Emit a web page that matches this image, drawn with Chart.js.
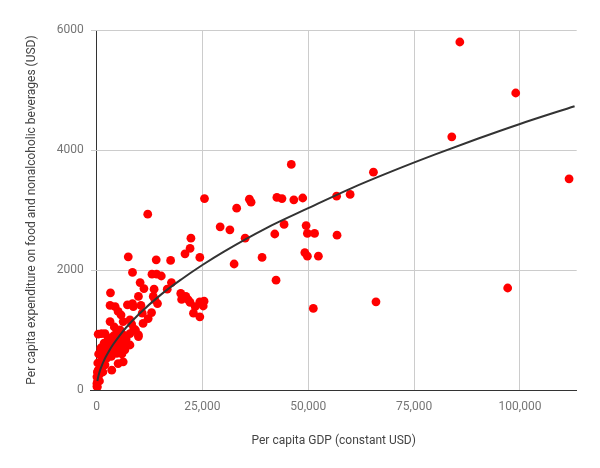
<!DOCTYPE html>
<html>
<head>
<meta charset="utf-8">
<script src="https://cdn.jsdelivr.net/npm/chart.js@4.4.1/dist/chart.umd.min.js"></script>
<style>
  html, body { margin: 0; padding: 0; background: #fff; }
  #wrap { width: 600px; height: 468px; }
</style>
</head>
<body>
<div id="wrap"><canvas id="c" width="600" height="468"></canvas></div>
<script>
// GDP per capita (constant USD) for each country
const gdp = [
  85800, 99000, 83900, 111600, 65400, 48700, 56700, 59900, 49500, 49800,
  51500, 56800, 49200, 49800, 52400, 97100, 66000, 51200,
  46000, 25500, 12100, 33100, 36100, 36500, 42600, 43800, 46600, 29200,
  31500, 44300, 42100, 35100, 22300, 22100, 20900, 24400, 39100, 32500,
  42400, 7500, 14100, 17500, 8500, 13100, 14200, 15300, 10300, 11200,
  13600, 17700, 16700, 3300, 9900, 13400, 13800, 14400, 19900, 21100,
  21700, 20100, 22100, 24400, 25200, 25400, 23300, 22900, 24400, 3200,
  4400, 5100, 5800, 7300, 8500, 8700, 10500, 10800, 13000,
  3200, 7900, 11000, 12200, 6300, 8300, 1200, 2000, 4800, 6300,
  7900, 9900, 3200, 4800, 6300, 7900, 1600, 3200, 4800, 6700,
  6300, 5100, 3600, 800, 400, 100, 100, 100, 2400, 2000,
  1200, 9900, 2800, 4000, 5500, 7000, 8800, 4200, 5600, 3800,
  5600, 2500, 6000, 1800, 500, 300, 600, 900, 1500, 300,
  200, 1400, 200, 700, 400, 1000, 2600, 3500, 4500, 9200
];
// Per capita expenditure on food and nonalcoholic beverages (USD)
const foodSpend = [
  5800, 4950, 4220, 3520, 3630, 3200, 3230, 3260, 2740, 2610,
  2610, 2580, 2290, 2230, 2230, 1700, 1470, 1360,
  3760, 3190, 2930, 3030, 3180, 3130, 3210, 3190, 3170, 2720,
  2670, 2760, 2600, 2530, 2530, 2360, 2270, 2210, 2210, 2100,
  1830, 2220, 2170, 2160, 1960, 1930, 1930, 1900, 1790, 1690,
  1680, 1790, 1680, 1620, 1560, 1560, 1500, 1440, 1610, 1560,
  1500, 1510, 1460, 1470, 1400, 1480, 1390, 1280, 1220, 1410,
  1390, 1310, 1250, 1420, 1440, 1390, 1410, 1280, 1290,
  1140, 1170, 1110, 1190, 1140, 1100, 940, 940, 970, 920,
  940, 920, 780, 830, 780, 750, 610, 640, 610, 670,
  470, 440, 330, 440, 330, 220, 110, 60, 530, 420,
  560, 890, 870, 900, 860, 850, 1020, 1050, 1000, 700,
  720, 700, 600, 780, 600, 450, 250, 350, 300, 150,
  300, 450, 50, 150, 930, 700, 820, 560, 720, 1000
];
// Trend line
const trendX = [200, 500, 1000, 2000, 3000, 4000, 5500, 7000, 10000, 15000, 20000, 25000, 30000, 40000, 50000, 60000, 70000, 80000, 90000, 100000, 112900];
const trendY = [150, 247, 360, 526, 656, 767, 912, 1042, 1263, 1577, 1842, 2083, 2303, 2695, 3030, 3357, 3651, 3926, 4187, 4434, 4730];
// Axis ticks
const xTicks = [0, 25000, 50000, 75000, 100000];
const yTicks = [0, 2000, 4000, 6000];

const points = gdp.map((v, i) => ({ x: v, y: foodSpend[i] }));
const trend = trendX.map((v, i) => ({ x: v, y: trendY[i] }));

Chart.defaults.font.family = 'Roboto';
Chart.defaults.font.size = 12;

new Chart(document.getElementById('c'), {
  type: 'scatter',
  data: {
    datasets: [
      {
        label: 'Trend',
        data: trend,
        showLine: true,
        borderColor: '#333333',
        borderWidth: 2,
        pointRadius: 0,
        pointHoverRadius: 0,
        cubicInterpolationMode: 'monotone',
        fill: false,
        order: 0
      },
      {
        label: 'Countries',
        data: points,
        backgroundColor: '#ff0000',
        borderColor: '#ff0000',
        borderWidth: 0,
        pointRadius: 4.4,
        pointHoverRadius: 4.4,
        order: 1
      }
    ]
  },
  options: {
    responsive: false,
    animation: false,
    layout: { padding: { top: 30, right: 23.3, left: 0, bottom: 0 } },
    plugins: { legend: { display: false }, tooltip: { enabled: false } },
    scales: {
      x: {
        type: 'linear',
        min: -1370,
        max: 113400,
        afterBuildTicks: (s) => { s.ticks = xTicks.map(v => ({ value: v })); },
        afterFit: (s) => { s.height = 78; },
        border: { display: true, color: '#333333', width: 1 },
        grid: {
          drawTicks: false,
          color: (ctx) => (ctx.tick && ctx.tick.value === 0) ? '#333333' : '#cccccc',
          lineWidth: 1
        },
        ticks: {
          padding: 9.5,
          color: '#757575',
          font: { size: 12 },
          callback: (v) => v.toLocaleString('en-US')
        },
        title: {
          display: true,
          text: 'Per capita GDP (constant USD)',
          color: '#444444',
          font: { size: 12 },
          padding: { top: 0, bottom: 19.6 }
        }
      },
      y: {
        type: 'linear',
        min: 0,
        max: 6000,
        afterBuildTicks: (s) => { s.ticks = yTicks.map(v => ({ value: v })); },
        afterFit: (s) => { s.width = 90.7; },
        border: { display: false },
        grid: {
          drawTicks: false,
          color: (ctx) => (ctx.tick && ctx.tick.value === 0) ? '#333333' : '#cccccc',
          lineWidth: 1
        },
        ticks: {
          padding: 7,
          color: '#757575',
          font: { size: 12 },
          callback: (v) => String(v)
        },
        title: {
          display: true,
          text: 'Per capita expenditure on food and nonalcoholic beverages (USD)',
          color: '#444444',
          font: { size: 12 },
          padding: { top: 24.8, bottom: 0 }
        }
      }
    }
  }
});
</script>
</body>
</html>
